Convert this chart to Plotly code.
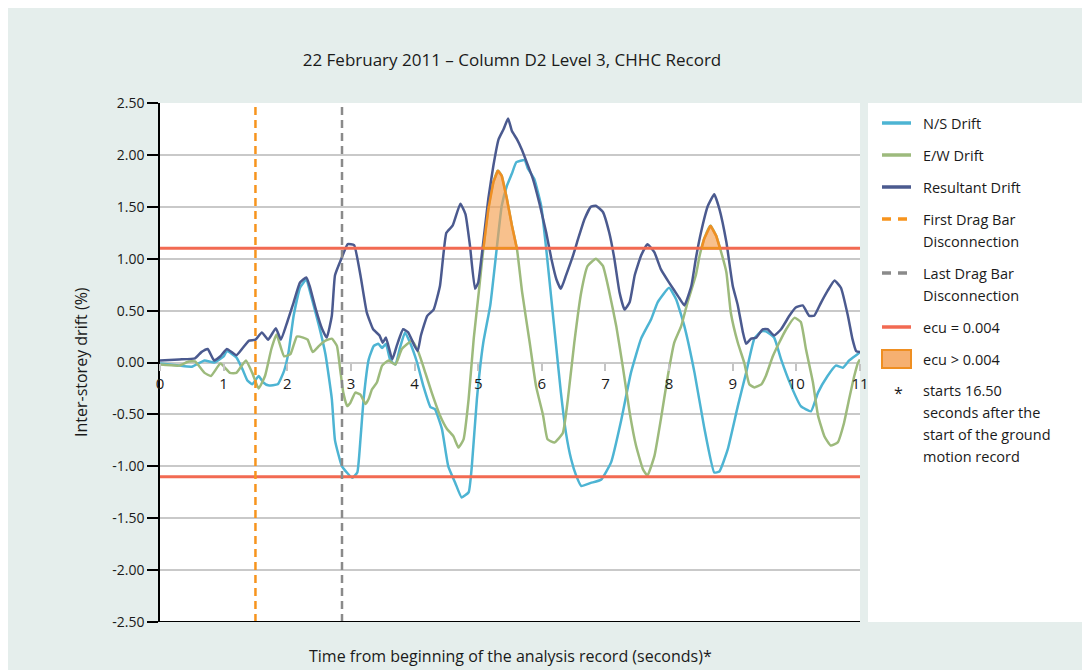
import numpy as np
import plotly.graph_objects as go

# --- data ---
ns_time = [0.0, 0.3, 0.5, 0.7, 0.85, 1.0, 1.05, 1.2, 1.3, 1.37, 1.45, 1.55, 1.62, 1.7, 1.85, 1.95,
           2.02, 2.1, 2.2, 2.3, 2.35, 2.5, 2.6, 2.7, 2.75, 2.86, 3.02, 3.1, 3.15, 3.2, 3.28, 3.36,
           3.43, 3.49, 3.55, 3.62, 3.7, 3.77, 3.85, 3.93, 4.04, 4.14, 4.25, 4.32, 4.43, 4.53, 4.64,
           4.74, 4.85, 4.9, 4.98, 5.08, 5.19, 5.29, 5.37, 5.45, 5.53, 5.6, 5.73, 5.78, 5.88, 5.99,
           6.07, 6.15, 6.23, 6.3, 6.38, 6.46, 6.54, 6.62, 6.77, 6.93, 7.09, 7.25, 7.4, 7.56, 7.72,
           7.82, 8.0, 8.11, 8.24, 8.4, 8.55, 8.71, 8.79, 8.92, 9.08, 9.21, 9.34, 9.45, 9.52, 9.65,
           9.76, 9.92, 10.07, 10.23, 10.34, 10.49, 10.62, 10.73, 10.83, 10.96, 11.0]
ns_drift = [-0.01, -0.03, -0.04, 0.02, 0.0, 0.06, 0.11, 0.05, -0.07, -0.17, -0.21, -0.13, -0.19, -0.22, -0.21, -0.08,
            0.1, 0.45, 0.72, 0.80, 0.70, 0.35, 0.08, -0.35, -0.75, -1.0, -1.11, -1.06, -0.74, -0.35, 0.03, 0.16,
            0.18, 0.14, 0.18, 0.02, -0.02, 0.14, 0.29, 0.19, 0.0, -0.23, -0.43, -0.45, -0.64, -1.0, -1.16,
            -1.30, -1.25, -1.0, -0.35, 0.19, 0.55, 1.09, 1.51, 1.70, 1.82, 1.93, 1.95, 1.87, 1.77, 1.51,
            1.09, 0.61, 0.13, -0.29, -0.68, -0.93, -1.09, -1.19, -1.16, -1.13, -0.96, -0.55, -0.1, 0.23, 0.42,
            0.58, 0.72, 0.61, 0.35, -0.1, -0.62, -1.06, -1.05, -0.84, -0.42, -0.1, 0.23, 0.30, 0.30, 0.24,
            0.03, -0.23, -0.42, -0.47, -0.29, -0.13, -0.03, -0.05, 0.02, 0.08, 0.1]

ew_time = [0.0, 0.3, 0.45, 0.55, 0.7, 0.8, 0.95, 1.1, 1.2, 1.35, 1.45, 1.55, 1.65, 1.75, 1.83, 1.95,
           2.05, 2.15, 2.25, 2.32, 2.4, 2.5, 2.6, 2.7, 2.78, 2.83, 2.88, 2.94, 2.99, 3.07, 3.15, 3.23,
           3.28, 3.33, 3.41, 3.49, 3.59, 3.7, 3.8, 3.96, 4.06, 4.17, 4.27, 4.4, 4.51, 4.61, 4.69, 4.77,
           4.85, 4.93, 5.01, 5.08, 5.16, 5.24, 5.31, 5.37, 5.45, 5.53, 5.61, 5.69, 5.81, 5.91, 6.02,
           6.09, 6.2, 6.33, 6.41, 6.51, 6.62, 6.72, 6.85, 6.96, 7.06, 7.17, 7.27, 7.38, 7.48, 7.59,
           7.66, 7.77, 7.87, 7.98, 8.08, 8.19, 8.29, 8.42, 8.48, 8.55, 8.65, 8.74, 8.82, 8.9, 8.97,
           9.08, 9.18, 9.26, 9.34, 9.45, 9.52, 9.63, 9.73, 9.84, 9.97, 10.07, 10.15, 10.26, 10.34,
           10.44, 10.54, 10.65, 10.75, 10.83, 10.91, 10.97, 11.0]
ew_drift = [-0.02, -0.03, 0.01, 0.01, -0.1, -0.13, -0.01, -0.1, -0.1, 0.02, -0.1, -0.25, -0.13, 0.13, 0.27, 0.06,
            0.08, 0.25, 0.24, 0.22, 0.1, 0.16, 0.21, 0.23, 0.16, -0.06, -0.29, -0.42, -0.39, -0.29, -0.31, -0.4,
            -0.35, -0.26, -0.19, -0.03, 0.02, -0.02, 0.13, 0.21, 0.1, -0.1, -0.29, -0.51, -0.64, -0.71, -0.82, -0.74,
            -0.35, 0.23, 0.68, 1.09, 1.48, 1.74, 1.85, 1.8, 1.58, 1.32, 1.09, 0.68, 0.19, -0.23, -0.51,
            -0.74, -0.77, -0.68, -0.35, 0.19, 0.68, 0.93, 1.0, 0.93, 0.68, 0.35, -0.03, -0.48, -0.8, -1.03,
            -1.09, -0.9, -0.55, -0.13, 0.19, 0.35, 0.58, 0.84, 1.03, 1.19, 1.32, 1.22, 1.06, 0.87, 0.48,
            0.19, 0.0, -0.21, -0.24, -0.21, -0.13, 0.06, 0.19, 0.32, 0.43, 0.39, 0.13, -0.19, -0.51,
            -0.71, -0.8, -0.77, -0.58, -0.35, -0.13, 0.0, 0.03]

res_time = [0.0, 0.3, 0.55, 0.65, 0.75, 0.85, 0.95, 1.05, 1.2, 1.3, 1.4, 1.5, 1.6, 1.7, 1.82, 1.9,
            2.0, 2.1, 2.2, 2.3, 2.35, 2.45, 2.55, 2.62, 2.7, 2.75, 2.85, 2.95, 3.05, 3.15, 3.25, 3.35,
            3.45, 3.5, 3.55, 3.65, 3.72, 3.82, 3.9, 4.0, 4.05, 4.1, 4.2, 4.3, 4.4, 4.5, 4.6, 4.72,
            4.8, 4.87, 4.95, 5.0, 5.08, 5.16, 5.24, 5.32, 5.4, 5.47, 5.53, 5.61, 5.68, 5.75, 5.86,
            5.96, 6.07, 6.15, 6.23, 6.3, 6.38, 6.49, 6.57, 6.67, 6.77, 6.85, 6.96, 7.06, 7.14, 7.22,
            7.3, 7.38, 7.46, 7.56, 7.66, 7.77, 7.87, 8.0, 8.14, 8.24, 8.35, 8.42, 8.5, 8.61, 8.71,
            8.79, 8.9, 9.0, 9.08, 9.16, 9.21, 9.29, 9.37, 9.47, 9.55, 9.65, 9.76, 9.89, 9.99, 10.1,
            10.2, 10.28, 10.39, 10.49, 10.6, 10.7, 10.81, 10.88, 10.94, 11.0]
res_drift = [0.02, 0.03, 0.04, 0.1, 0.13, 0.02, 0.06, 0.13, 0.07, 0.14, 0.21, 0.22, 0.29, 0.22, 0.33, 0.22,
             0.39, 0.58, 0.77, 0.82, 0.74, 0.51, 0.32, 0.24, 0.45, 0.84, 1.0, 1.14, 1.13, 0.84, 0.48, 0.32,
             0.26, 0.19, 0.24, 0.03, 0.16, 0.32, 0.29, 0.16, 0.11, 0.26, 0.45, 0.51, 0.74, 1.25, 1.32, 1.53,
             1.43, 1.13, 0.71, 0.77, 1.16, 1.58, 1.9, 2.15, 2.25, 2.35, 2.23, 2.15, 2.06, 1.95, 1.77,
             1.54, 1.25, 1.0, 0.8, 0.71, 0.84, 1.03, 1.19, 1.38, 1.5, 1.51, 1.45, 1.25, 1.0, 0.68,
             0.51, 0.58, 0.84, 1.03, 1.14, 1.06, 0.9, 0.77, 0.64, 0.55, 0.74, 1.0, 1.25, 1.51, 1.62,
             1.48, 1.16, 0.74, 0.55, 0.29, 0.18, 0.23, 0.24, 0.32, 0.32, 0.26, 0.32, 0.45, 0.53, 0.55,
             0.45, 0.45, 0.58, 0.69, 0.79, 0.72, 0.45, 0.23, 0.11, 0.1]

first_disconnection = 1.5
last_disconnection = 2.86
ecu_limit = 1.1
x_ticks = list(range(0, 12))
y_ticks = [-2.5, -2.0, -1.5, -1.0, -0.5, 0.0, 0.5, 1.0, 1.5, 2.0, 2.5]
y_tick_text = [f"{v:.2f}" for v in y_ticks]

legend_labels = [["N/S Drift"], ["E/W Drift"], ["Resultant Drift"],
                 ["First Drag Bar", "Disconnection"], ["Last Drag Bar", "Disconnection"],
                 ["ecu = 0.004"], ["ecu > 0.004"]]
note_lines = ["starts 16.50", "seconds after the", "start of the ground", "motion record"]

# colours
C_NS = "#4db4d3"
C_EW = "#9dba7c"
C_RES = "#4b5a8f"
C_RED = "#f26a52"
C_ORANGE = "#f7941d"
C_GREY = "#8a8a8a"
BG = "#e5eeec"
TXT = "#1a1a1a"
FONT = "Open Sans"

# geometry, in screen pixels (page has an 8px body margin)
OFF = 8
W, H = 1090, 670
PL, PR, PT, PB = 160, 860, 103, 622


def px(x):
    return (x - PL) / (PR - PL)


def py(y):
    return (PB - y) / (PB - PT)


def above_polygons(t, y, thr):
    """polygons of the part of a series above thr, separated by None"""
    xs, ys = [], []
    cur_x, cur_y = [], []
    for i in range(len(t)):
        if i > 0 and (y[i - 1] - thr) * (y[i] - thr) < 0:
            tc = t[i - 1] + (thr - y[i - 1]) * (t[i] - t[i - 1]) / (y[i] - y[i - 1])
            cur_x.append(tc)
            cur_y.append(thr)
            if y[i] < thr:
                xs += cur_x + [cur_x[0], None]
                ys += cur_y + [cur_y[0], None]
                cur_x, cur_y = [], []
        if y[i] > thr:
            cur_x.append(t[i])
            cur_y.append(y[i])
    return xs, ys


fig = go.Figure()
y_lo, y_hi = y_ticks[0], y_ticks[-1]
x_lo, x_hi = x_ticks[0], x_ticks[-1]

fig.add_trace(go.Scatter(x=ns_time, y=ns_drift, mode="lines", name="N/S Drift",
                         line=dict(color=C_NS, width=2.5, shape="spline", smoothing=0.4)))
fig.add_trace(go.Scatter(x=ew_time, y=ew_drift, mode="lines", name="E/W Drift",
                         line=dict(color=C_EW, width=2.5, shape="spline", smoothing=0.4)))
fig.add_trace(go.Scatter(x=res_time, y=res_drift, mode="lines", name="Resultant Drift",
                         line=dict(color=C_RES, width=2.5, shape="spline", smoothing=0.4)))

# ecu limit lines
for lim in (ecu_limit, -ecu_limit):
    fig.add_trace(go.Scatter(x=[x_lo, x_hi], y=[lim, lim], mode="lines",
                             line=dict(color=C_RED, width=3)))

# drag bar disconnections
fig.add_trace(go.Scatter(x=[first_disconnection] * 2, y=[y_lo, y_hi], mode="lines",
                         line=dict(color=C_ORANGE, width=2.5, dash="8px,5px")))
fig.add_trace(go.Scatter(x=[last_disconnection] * 2, y=[y_lo, y_hi], mode="lines",
                         line=dict(color=C_GREY, width=2.5, dash="8px,5px")))

# ecu exceeded region (E/W drift above the limit)
fx, fy = above_polygons(ew_time, ew_drift, ecu_limit)
fig.add_trace(go.Scatter(x=fx, y=fy, mode="lines", fill="toself",
                         fillcolor="rgba(245,160,80,0.65)",
                         line=dict(color="#ef8f22", width=2.5)))

shapes = [
    # legend box
    dict(type="rect", xref="paper", yref="paper", x0=px(868), x1=px(1085), y0=py(103), y1=py(622),
         fillcolor="white", line_width=0, layer="below"),
    # bottom axis line
    dict(type="line", xref="paper", yref="y", x0=0, x1=1, y0=y_lo, y1=y_lo,
         line=dict(color="black", width=2)),
]
annotations = []

# legend
sample_styles = [
    dict(color=C_NS, width=3.5), dict(color=C_EW, width=3.5), dict(color=C_RES, width=3.5),
    dict(color=C_ORANGE, width=3.5, dash="9px,7px"), dict(color=C_GREY, width=3.5, dash="9px,7px"),
    dict(color=C_RED, width=3.5), None,
]
row_y = 123
for labels, style in zip(legend_labels, sample_styles):
    if style is None:
        shapes.append(dict(type="rect", xref="paper", yref="paper", x0=px(882), x1=px(911),
                           y0=py(row_y - 9), y1=py(row_y + 9), fillcolor="#f6b071",
                           line=dict(color="#ef8f22", width=2)))
    else:
        shapes.append(dict(type="line", xref="paper", yref="paper", x0=px(882), x1=px(911),
                           y0=py(row_y), y1=py(row_y), line=style))
    for j, lab in enumerate(labels):
        annotations.append(dict(x=px(921), y=py(row_y + 22 * j), xref="paper", yref="paper",
                                text=lab, showarrow=False, xanchor="left", yanchor="middle",
                                font=dict(family=FONT, size=14.5, color=TXT)))
    row_y += 22 * len(labels) + 10

annotations.append(dict(x=px(898), y=py(row_y + 2), xref="paper", yref="paper", text="*",
                        showarrow=False, xanchor="center", yanchor="middle",
                        font=dict(family=FONT, size=16, color=TXT)))
for j, line in enumerate(note_lines):
    annotations.append(dict(x=px(921), y=py(row_y + 21.7 * j), xref="paper", yref="paper",
                            text=line, showarrow=False, xanchor="left", yanchor="middle",
                            font=dict(family=FONT, size=14.5, color=TXT)))

# axis titles
annotations.append(dict(x=px(68), y=py(362), xref="paper", yref="paper",
                        text="Inter-storey drift (%)", textangle=-90, showarrow=False,
                        font=dict(family=FONT, size=16, color=TXT)))
annotations.append(dict(x=px(510), y=py(656), xref="paper", yref="paper",
                        text="Time from beginning of the analysis record (seconds)*",
                        showarrow=False, yanchor="middle",
                        font=dict(family=FONT, size=16, color=TXT)))

fig.update_layout(
    width=W, height=H,
    margin=dict(l=PL - OFF, r=W - PR + OFF, t=PT - OFF, b=H - PB + OFF, autoexpand=False),
    paper_bgcolor=BG,
    plot_bgcolor="white",
    showlegend=False,
    title=dict(text="22 February 2011 \u2013 Column D2 Level 3, CHHC Record",
               x=px(512), xref="paper", xanchor="center",
               y=1 - (60 - OFF) / H, yref="container", yanchor="middle",
               font=dict(family=FONT, size=17, color=TXT)),
    font=dict(family=FONT, size=15, color=TXT),
    xaxis=dict(range=[x_lo, x_hi], tickvals=x_ticks, showgrid=False, zeroline=False,
               showline=False, anchor="free", position=0.5,
               ticks="outside", ticklen=7, tickwidth=1.5, tickcolor="#c4c4c4",
               tickfont=dict(family=FONT, size=15, color=TXT)),
    yaxis=dict(range=[y_lo, y_hi], tickvals=y_ticks, ticktext=y_tick_text, showgrid=True,
               gridcolor="#c9c9c9", gridwidth=1.5, zeroline=False, showline=True,
               linecolor="black", linewidth=1.5, ticks="outside", ticklen=11,
               tickcolor="black", tickwidth=1.5,
               tickfont=dict(family=FONT, size=14, color=TXT)),
    shapes=shapes,
    annotations=annotations,
)

fig.write_html("out.html")
